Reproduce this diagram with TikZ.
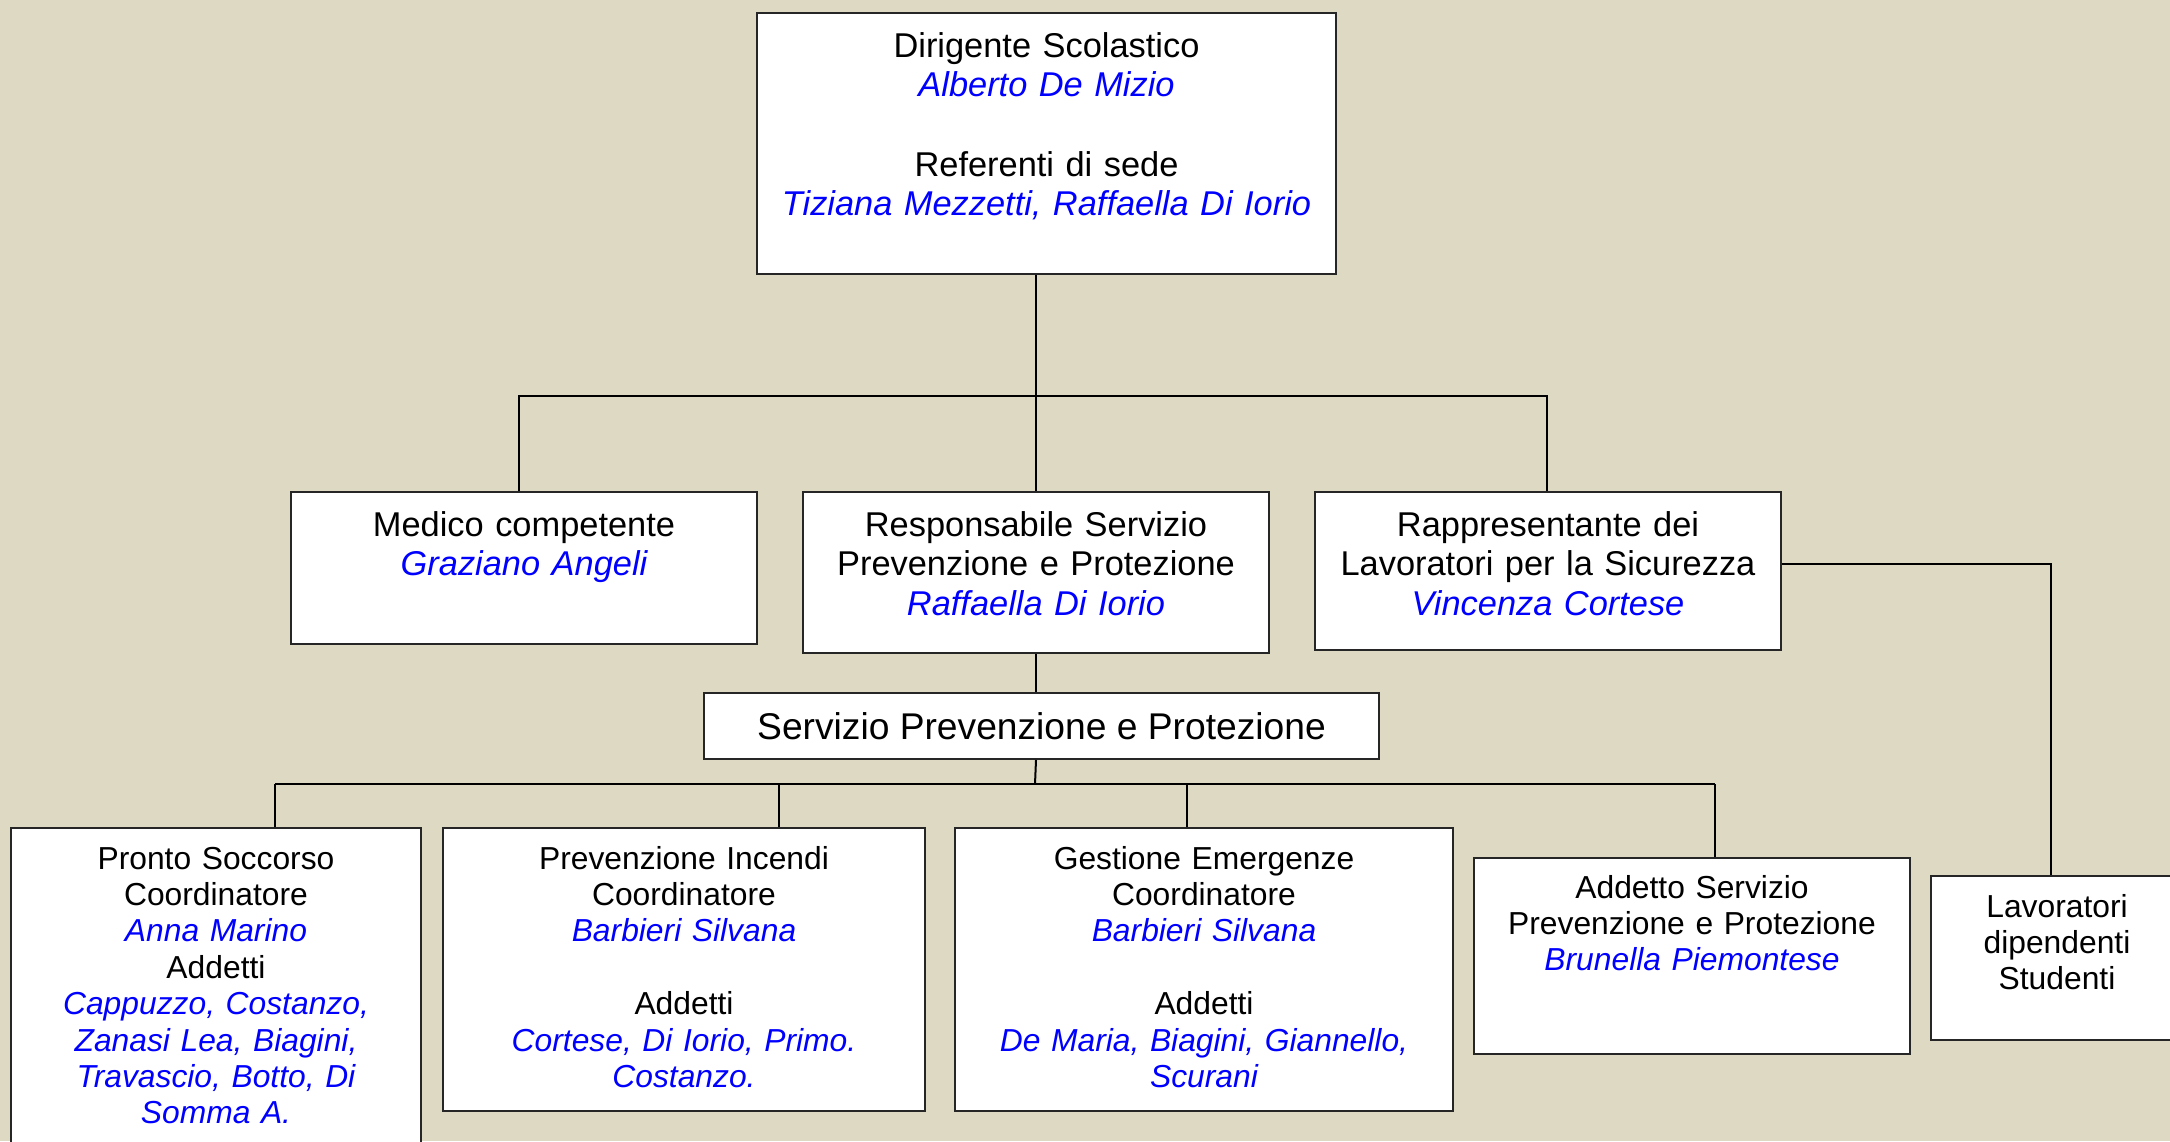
\documentclass[tikz,border=0pt]{standalone}
\usepackage{fontspec}
\setmainfont{Liberation Sans}
\definecolor{sfondo}{RGB}{221,217,195}
\definecolor{blu}{RGB}{0,0,255}
\newcommand{\nome}[1]{{\color{blu}\itshape #1}}
\tikzset{
  casella/.style={draw=black!85, line width=2pt, fill=white, anchor=north west, inner sep=0pt},
  testo/.style={anchor=base, align=center, inner sep=0pt, font=\fontsize{34.4}{39.7}\selectfont},
  testino/.style={testo, font=\fontsize{31.8}{36.4}\selectfont},
  linea/.style={line width=2pt}
}
\begin{document}
\begin{tikzpicture}[x=1pt,y=-1pt]
	\useasboundingbox (0,0) rectangle (2170,1141);
	\clip (0,0) rectangle (2170,1141);
	\fill[sfondo] (0,0) rectangle (2170,1141);

	\node[casella, minimum width=579, minimum height=261] (ds) at (756,12) {};
	\node[testo, text width=560] (ds-t) at ([yshift=-45]ds.north) {Dirigente Scolastico\\ \nome{Alberto De Mizio}\\[39.7pt] Referenti di sede\\ \nome{Tiziana Mezzetti, Raffaella Di Iorio}};

	\node[casella, minimum width=466, minimum height=152] (medico) at (290,491) {};
	\node[testo, text width=450] (medico-t) at ([yshift=-45]medico.north) {Medico competente\\ \nome{Graziano Angeli}};

	\node[casella, minimum width=466, minimum height=161] (resp) at (802,491) {};
	\node[testo, text width=450] (resp-t) at ([yshift=-45]resp.north) {Responsabile Servizio\\ Prevenzione e Protezione\\ \nome{Raffaella Di Iorio}};

	\node[casella, minimum width=466, minimum height=158] (rappr) at (1314,491) {};
	\node[testo, text width=450] (rappr-t) at ([yshift=-45]rappr.north) {Rappresentante dei\\ Lavoratori per la Sicurezza\\ \nome{Vincenza Cortese}};

	\node[casella, anchor=center, minimum width=675, minimum height=66, font=\fontsize{37.2}{42}\selectfont] (spp) at (1041.5,726) {Servizio Prevenzione e Protezione};

	\node[casella, minimum width=410, minimum height=330] (pronto) at (10,827) {};
	\node[testino, text width=395] (pronto-t) at ([yshift=-42]pronto.north) {Pronto Soccorso\\ Coordinatore\\ \nome{Anna Marino}\\ Addetti\\ \nome{Cappuzzo, Costanzo,}\\ \nome{Zanasi Lea, Biagini,}\\ \nome{Travascio, Botto, Di}\\ \nome{Somma A.}};

	\node[casella, minimum width=482, minimum height=283] (incendi) at (442,827) {};
	\node[testino, text width=465] (incendi-t) at ([yshift=-42]incendi.north) {Prevenzione Incendi\\ Coordinatore\\ \nome{Barbieri Silvana}\\[36.4pt] Addetti\\ \nome{Cortese, Di Iorio, Primo.}\\ \nome{Costanzo.}};

	\node[casella, minimum width=498, minimum height=283] (gestione) at (954,827) {};
	\node[testino, text width=480] (gestione-t) at ([yshift=-42]gestione.north) {Gestione Emergenze\\ Coordinatore\\ \nome{Barbieri Silvana}\\[36.4pt] Addetti\\ \nome{De Maria, Biagini, Giannello,}\\ \nome{Scurani}};

	\node[casella, minimum width=436, minimum height=196] (addetto) at (1473,857) {};
	\node[testino, text width=420] (addetto-t) at ([yshift=-41]addetto.north) {Addetto Servizio\\ Prevenzione e Protezione\\ \nome{Brunella Piemontese}};

	\node[casella, minimum width=252, minimum height=164] (lav) at (1930,875) {};
	\node[testino, text width=240] (lav-t) at ([yshift=-42]lav.north) {Lavoratori\\ dipendenti\\ Studenti};

	\coordinate (b-medico) at (519,396);
	\coordinate (b-rappr) at (1547,396);
	\coordinate (angolo) at (2051,564);
	\draw[linea] (ds.south -| resp.north) -- (resp.north);
	\draw[linea] (b-medico |- medico.north) -- (b-medico) -- (b-rappr) -- (b-rappr |- rappr.north);
	\draw[linea] (rappr.east |- angolo) -- (angolo) -- (angolo |- lav.north);

	\draw[linea] (resp.south) -- (resp.south |- spp.north);
	\coordinate (bus) at (1035,784);
	\draw[linea] (resp.south |- spp.south) -- (bus);
	\coordinate (b-pronto) at (275,784);
	\coordinate (b-incendi) at (779,784);
	\coordinate (b-gestione) at (1187,784);
	\coordinate (b-addetto) at (1715,784);
	\draw[linea] (b-pronto) -- (b-addetto);
	\foreach \n in {pronto,incendi,gestione,addetto}
		\draw[linea] (b-\n) -- (b-\n |- \n.north);
\end{tikzpicture}
\end{document}
